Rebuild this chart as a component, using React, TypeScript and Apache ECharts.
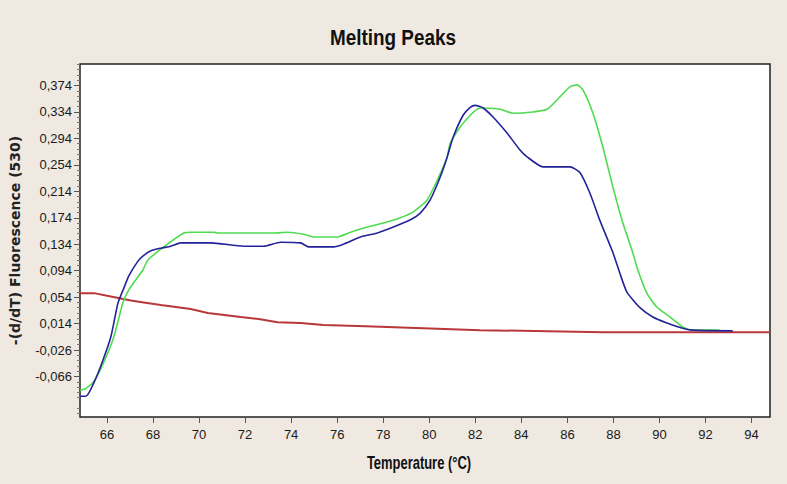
import React, { useEffect, useRef } from "react";
import * as echarts from "echarts";

// Axis ticks
const xTicks = [66, 68, 70, 72, 74, 76, 78, 80, 82, 84, 86, 88, 90, 92, 94];
const yTicks = [-0.066, -0.026, 0.014, 0.054, 0.094, 0.134, 0.174, 0.214, 0.254, 0.294, 0.334, 0.374];

// Sample 1 (blue)
const blueTemp = [
  64.83, 65.09, 65.44, 65.83, 66.17, 66.48, 66.74, 66.95, 67.34, 67.56, 67.91, 68.34, 68.77, 69.21,
  70.51, 71.94, 72.81, 73.54, 74.41, 74.76, 75.84, 76.27, 77.01, 77.75, 78.44, 79.18, 79.61, 80.04,
  80.48, 80.78, 81.04, 81.47, 81.78, 81.99, 82.34, 82.78, 83.38, 83.95, 84.25, 84.94, 86.11, 86.55,
  86.98, 87.41, 87.98, 88.28, 88.58, 89.15, 89.71, 90.32, 91.01, 91.44, 93.18,
];
const blueValues = [
  -0.096, -0.096, -0.075, -0.041, -0.006, 0.045, 0.068, 0.086, 0.108, 0.116, 0.124, 0.128, 0.131, 0.136,
  0.136, 0.131, 0.131, 0.137, 0.136, 0.13, 0.13, 0.134, 0.145, 0.151, 0.16, 0.171, 0.181, 0.201,
  0.236, 0.266, 0.296, 0.329, 0.341, 0.344, 0.34, 0.326, 0.302, 0.276, 0.266, 0.251, 0.251, 0.242,
  0.211, 0.17, 0.121, 0.09, 0.062, 0.038, 0.024, 0.015, 0.007, 0.004, 0.003,
];

// Sample 2 (green)
const greenTemp = [
  64.83, 65.09, 65.44, 65.87, 66.3, 66.69, 66.95, 67.56, 67.78, 68.47, 69.34, 69.64, 70.64, 70.81,
  73.24, 73.85, 74.54, 74.97, 76.01, 76.58, 77.31, 78.01, 78.74, 79.31, 79.91, 80.35, 80.78, 80.91,
  81.47, 82.21, 83.08, 83.64, 84.51, 85.12, 85.68, 86.11, 86.42, 86.68, 87.11, 87.54, 87.98, 88.41,
  88.84, 89.06, 89.45, 89.88, 90.45, 91.01, 91.44, 92.61,
];
const greenValues = [
  -0.087, -0.084, -0.073, -0.044, -0.006, 0.045, 0.065, 0.095, 0.11, 0.13, 0.151, 0.152, 0.152, 0.151,
  0.151, 0.152, 0.149, 0.145, 0.145, 0.152, 0.16, 0.166, 0.174, 0.183, 0.201, 0.231, 0.266, 0.287,
  0.317, 0.34, 0.338, 0.332, 0.334, 0.338, 0.357, 0.372, 0.375, 0.367, 0.332, 0.281, 0.22, 0.166,
  0.121, 0.095, 0.06, 0.039, 0.024, 0.009, 0.004, 0.004,
];

// Negative control (red)
const redTemp = [
  64.83, 65.44, 66.17, 67.04, 67.6, 68.34, 69.64, 70.38, 71.81, 72.59, 73.41, 74.41, 75.41, 77.23,
  79.74, 82.21, 87.54, 94.8,
];
const redValues = [
  0.06, 0.06, 0.055, 0.049, 0.046, 0.042, 0.036, 0.03, 0.024, 0.021, 0.016, 0.015, 0.012, 0.01,
  0.007, 0.004, 0.001, 0.001,
];

const X_MIN = 64.83;
const X_MAX = 94.8;
const Y_MIN = -0.1273;
const Y_MAX = 0.4065;

const sans = '"Liberation Sans", Arial, sans-serif';

function pairs(xs: number[], ys: number[]) {
  return xs.map((x, i) => [x, ys[i]]);
}

function minorTicks(): number[] {
  const out: number[] = [];
  for (let k = -8; k <= 60; k++) {
    const v = Math.round((-0.066 + k * 0.008) * 1000) / 1000;
    if (v < Y_MIN || v > Y_MAX) continue;
    if (k % 5 === 0) continue;
    out.push(v);
  }
  return out;
}

export default function App() {
  const ref = useRef<HTMLDivElement>(null);

  useEffect(() => {
    document.body.style.margin = "0";
    document.body.style.background = "#EFE9E1";
    const chart = echarts.init(ref.current!, null, { renderer: "svg" });
    const labelStyle = { color: "#1a1a1a", fontFamily: sans, fontSize: 13 };
    chart.setOption({
      animation: false,
      backgroundColor: "#EFE9E1",
      graphic: [
        {
          type: "text",
          x: 393,
          y: 37,
          scaleX: 0.86,
          style: {
            text: "Melting Peaks",
            font: `bold 22px ${sans}`,
            fill: "#111",
            textAlign: "center",
            textVerticalAlign: "middle",
          },
        },
        {
          type: "text",
          x: 419,
          y: 463,
          scaleX: 0.72,
          style: {
            text: "Temperature (°C)",
            font: `bold 18px ${sans}`,
            fill: "#111",
            textAlign: "center",
            textVerticalAlign: "middle",
          },
        },
      ],
      grid: {
        left: 79,
        right: 17,
        top: 64,
        bottom: 67,
        show: true,
        backgroundColor: "#FFFFFF",
        borderColor: "#222",
        borderWidth: 1.5,
      },
      xAxis: {
        type: "value",
        min: X_MIN,
        max: X_MAX,
        axisLine: { show: false, onZero: false },
        splitLine: { show: false },
        axisTick: { show: true, customValues: xTicks, length: 6, lineStyle: { color: "#555" } },
        axisLabel: {
          ...labelStyle,
          margin: 11,
          customValues: xTicks,
          formatter: (v: number) => String(v),
        },
      },
      yAxis: [
        {
          type: "value",
          min: Y_MIN,
          max: Y_MAX,
          name: "-(d/dT) Fluorescence (530)",
          nameLocation: "middle",
          nameGap: 58,
          nameTextStyle: { fontFamily: "DejaVu Sans", fontWeight: "bold", fontSize: 14, color: "#222" },
          axisLine: { show: false, onZero: false },
          splitLine: { show: false },
          axisTick: { show: true, customValues: yTicks, length: 6, lineStyle: { color: "#555" } },
          axisLabel: {
            ...labelStyle,
            margin: 8,
            customValues: yTicks,
            formatter: (v: number) => v.toFixed(3).replace(".", ","),
          },
        },
        {
          type: "value",
          min: Y_MIN,
          max: Y_MAX,
          position: "left",
          axisLine: { show: false, onZero: false },
          splitLine: { show: false },
          axisLabel: { show: false },
          axisTick: { show: true, customValues: minorTicks(), length: 3, lineStyle: { color: "#777" } },
        },
      ],
      series: [
        {
          type: "line",
          data: pairs(redTemp, redValues),
          showSymbol: false,
          lineStyle: { color: "#B8383A", width: 2 },
          z: 2,
        },
        {
          type: "line",
          data: pairs(greenTemp, greenValues),
          showSymbol: false,
          smooth: 0.2,
          lineStyle: { color: "#4FDB4F", width: 1.6 },
          z: 3,
        },
        {
          type: "line",
          data: pairs(blueTemp, blueValues),
          showSymbol: false,
          smooth: 0.2,
          lineStyle: { color: "#23239A", width: 1.6 },
          z: 4,
        },
      ],
    });
    return () => chart.dispose();
  }, []);

  return <div ref={ref} style={{ width: 787, height: 484 }} />;
}
